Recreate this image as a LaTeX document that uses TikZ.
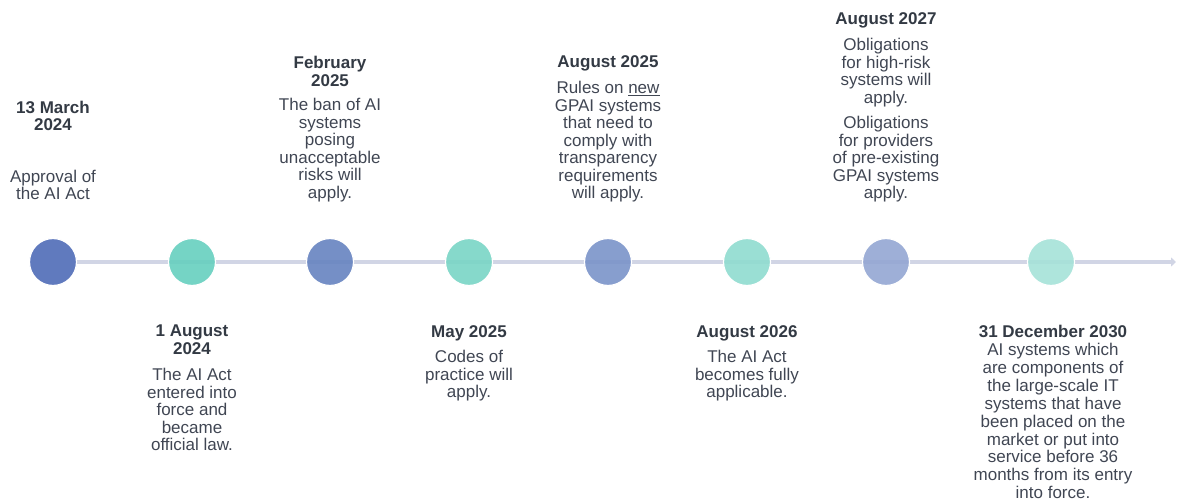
\documentclass[tikz,border=0pt]{standalone}
\usepackage{fontspec}
\setmainfont{Liberation Sans}
\usetikzlibrary{arrows.meta,backgrounds}

\definecolor{axisgray}{HTML}{D1D5E5}
\definecolor{bodytext}{HTML}{404653}
\definecolor{datetext}{HTML}{333A44}
\definecolor{blueA}{HTML}{4F6BB7}
\definecolor{blueB}{HTML}{6683C0}
\definecolor{blueC}{HTML}{7A93C9}
\definecolor{blueD}{HTML}{93A6D3}
\definecolor{tealA}{HTML}{66CFBF}
\definecolor{tealB}{HTML}{79D5C5}
\definecolor{tealC}{HTML}{8FDCCF}
\definecolor{tealD}{HTML}{A5E2D8}

\tikzset{
  dot/.style={circle, minimum size=47pt, inner sep=0pt, draw=white, line width=1.2pt, fill opacity=0.9},
  datelbl/.style={align=center, anchor=north, inner sep=0pt, text=datetext,
    font=\fontsize{17}{17.5}\selectfont\bfseries},
  bodylbl/.style={align=center, anchor=north, inner sep=0pt, text=bodytext,
    font=\fontsize{17}{17.5}\selectfont},
}

\begin{document}
\begin{tikzpicture}[x=1pt,y=-1pt]
\useasboundingbox (0,0) rectangle (1177,502);

% milestones
\node[dot, fill=blueA] (c1) at (53,262) {};
\node[dot, fill=tealA] (c2) at (192,262) {};
\node[dot, fill=blueB] (c3) at (330,262) {};
\node[dot, fill=tealB] (c4) at (469,262) {};
\node[dot, fill=blueC] (c5) at (608,262) {};
\node[dot, fill=tealC] (c6) at (747,262) {};
\node[dot, fill=blueD] (c7) at (886,262) {};
\node[dot, fill=tealD] (c8) at (1051,262) {};

% time axis
\coordinate (tip) at (1176,262);
\begin{scope}[on background layer]
\draw[axisgray, line width=4pt, -{Triangle[length=5pt,width=9pt]}] (c1) -- (tip);
\end{scope}

% labels above the axis
\node[datelbl] (d1) at (53,100.5) {13 March\\2024};
\node[bodylbl] (t1) at (53,169.5) {Approval of\\the AI Act};
\node[datelbl] (d3) at (330,56) {February\\2025};
\node[bodylbl] (t3) at (330,98) {The ban of AI\\systems\\posing\\unacceptable\\risks will\\apply.};
\node[datelbl] (d5) at (608,55) {August 2025};
\node[bodylbl] (t5) at (608,81) {Rules on \underline{new}\\GPAI systems\\that need to\\comply with\\transparency\\requirements\\will apply.};
\node[datelbl] (d7) at (886,12) {August 2027};
\node[bodylbl] (t7) at (886,38) {Obligations\\for high-risk\\systems will\\apply.};
\node[bodylbl] (u7) at (886,116) {Obligations\\for providers\\of pre-existing\\GPAI systems\\apply.};

% labels below the axis
\node[datelbl] (d2) at (192,325) {1 August\\2024};
\node[bodylbl] (t2) at (192,368) {The AI Act\\entered into\\force and\\became\\official law.};
\node[datelbl] (d4) at (469,325) {May 2025};
\node[bodylbl] (t4) at (469,350) {Codes of\\practice will\\apply.};
\node[datelbl] (d6) at (747,325) {August 2026};
\node[bodylbl] (t6) at (747,350) {The AI Act\\becomes fully\\applicable.};
\node[datelbl] (d8) at (1053,325) {31 December 2030};
\node[bodylbl, font=\fontsize{17}{17.9}\selectfont] (t8) at (1053,343) {AI systems which\\are components of\\the large-scale IT\\systems that have\\been placed on the\\market or put into\\service before 36\\months from its entry\\into force.};
\end{tikzpicture}
\end{document}
